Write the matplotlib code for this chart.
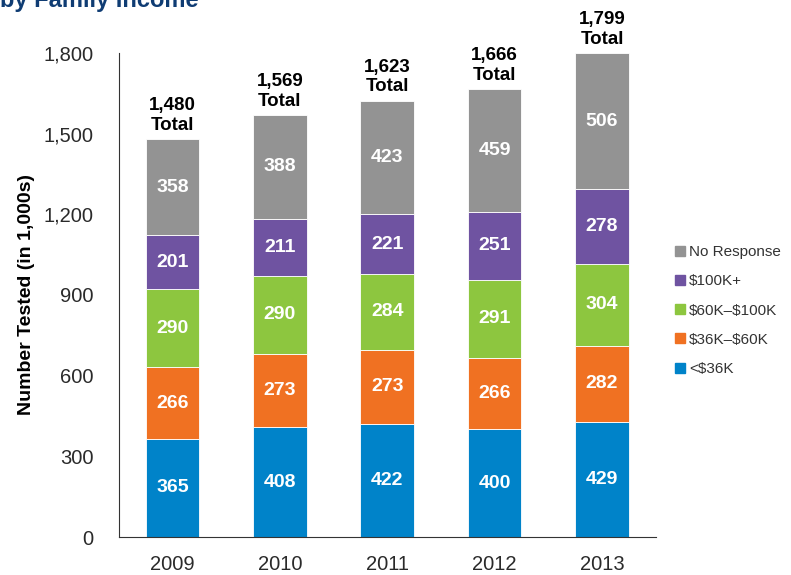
import matplotlib.pyplot as plt
import numpy as np
from matplotlib.lines import Line2D

plt.rcParams['font.family'] = ['Liberation Sans', 'DejaVu Sans']

# 数据
years = ['2009', '2010', '2011', '2012', '2013']
lt36 = [365, 408, 422, 400, 429]
k36_60 = [266, 273, 273, 266, 282]
k60_100 = [290, 290, 284, 291, 304]
k100 = [201, 211, 221, 251, 278]
no_resp = [358, 388, 423, 459, 506]
totals = [1480, 1569, 1623, 1666, 1799]

series = [lt36, k36_60, k60_100, k100, no_resp]
names = ['<\\$36K', '\\$36K\u2013\\$60K', '\\$60K\u2013\\$100K', '\\$100K+', 'No Response']
colors = ['#0083C9', '#F07122', '#8DC63F', '#6F53A1', '#939393']

fig = plt.figure(figsize=(7.91, 5.75), dpi=100)
ax = fig.add_axes([0.150, 0.066, 0.679, 0.842])

x = np.arange(len(years))
bottom = np.zeros(len(years))
for vals, c in zip(series, colors):
    vals = np.array(vals)
    ax.bar(x, vals, 0.5, bottom=bottom, color=c, edgecolor='white', linewidth=0.6)
    for xi, b, v in zip(x, bottom, vals):
        ax.text(xi, b + v / 2, str(v), ha='center', va='center', color='white',
                fontsize=14, fontweight='bold')
    bottom += vals

for xi, t in zip(x, totals):
    ax.text(xi, t + 20, f'{t:,}\nTotal', ha='center', va='bottom', fontsize=13.5,
            fontweight='bold', linespacing=1.2, clip_on=False)

ax.set_xlim(-0.5, 4.5)
ax.set_ylim(0, 1800)
ax.set_yticks(np.arange(0, 1801, 300))
ax.set_yticklabels([f'{v:,}' for v in range(0, 1801, 300)])
ax.set_xticks(x)
ax.set_xticklabels(years)
ax.tick_params(length=0, labelsize=14.5, colors='#2a2a2a', pad=13)
ax.tick_params(axis='y', pad=18)
ax.spines['top'].set_visible(False)
ax.spines['right'].set_visible(False)
ax.spines['left'].set_color('#333333')
ax.spines['bottom'].set_color('#333333')
ax.set_ylabel('Number Tested (in 1,000s)', fontsize=14, fontweight='bold', labelpad=6)

handles = [Line2D([], [], marker='s', linestyle='none', markersize=7, color=c)
           for c in colors[::-1]]
fig.legend(handles, names[::-1], loc='center left', bbox_to_anchor=(0.836, 0.46),
           frameon=False, fontsize=11, handlelength=0.6, handletextpad=0.3,
           labelspacing=1.0, labelcolor='#333333')

fig.text(0.0, 1 - 7 / 575, 'by Family Income', fontsize=17, fontweight='bold',
         color='#0F3C73', ha='left', va='baseline')

fig.savefig('out.png', dpi=100)
